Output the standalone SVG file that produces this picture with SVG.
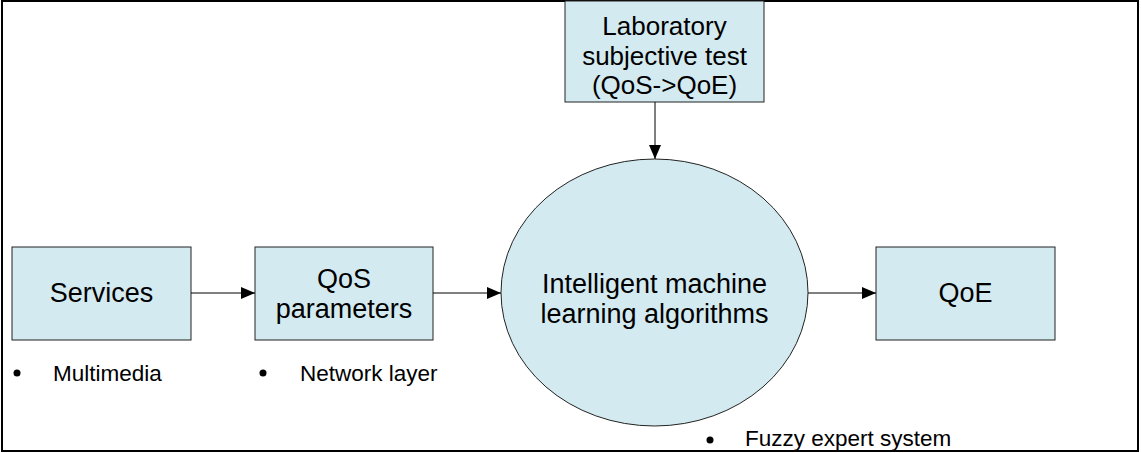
<svg xmlns="http://www.w3.org/2000/svg" width="1141" height="453" viewBox="0 0 1141 453">
<defs>
<style>
.box{fill:#D3EAF0;stroke:#222;stroke-width:1}
.t{font-family:"Liberation Sans",Arial,sans-serif;font-size:27px;fill:#000;text-anchor:middle}
.lab{font-size:26px}
.b{font-family:"Liberation Sans",Arial,sans-serif;font-size:22.5px;fill:#000}
.c{stroke:#000;stroke-width:1;fill:none;marker-end:url(#ah)}
</style>
<marker id="ah" markerWidth="14" markerHeight="12" refX="14" refY="6" orient="auto" markerUnits="userSpaceOnUse">
<path d="M0,0 L14,6 L0,12 Z" fill="#000"/>
</marker>
</defs>
<rect x="2" y="1" width="1136" height="450" fill="#fff" stroke="#000" stroke-width="2"/>
<g id="lab">
<rect class="box" x="565" y="1" width="199" height="101"/>
<text class="t lab" x="664.5" y="35">Laboratory</text>
<text class="t lab" x="664.5" y="64.5">subjective test</text>
<text class="t lab" x="664.5" y="94">(QoS-&gt;QoE)</text>
</g>
<g id="services">
<rect class="box" x="12" y="247" width="179" height="93"/>
<text class="t" x="101.5" y="302">Services</text>
</g>
<g id="qos">
<rect class="box" x="255" y="247" width="178" height="93"/>
<text class="t" x="344" y="288">QoS</text>
<text class="t" x="344" y="318">parameters</text>
</g>
<g id="ml">
<ellipse class="box" cx="654.5" cy="292.5" rx="153.5" ry="133.5"/>
<text class="t" x="654.5" y="293">Intelligent machine</text>
<text class="t" x="654.5" y="323">learning algorithms</text>
</g>
<g id="qoe">
<rect class="box" x="876" y="247" width="179" height="93"/>
<text class="t" x="965.5" y="302">QoE</text>
</g>
<g id="bullets">
<circle cx="17" cy="373" r="3.5"/>
<text class="b" x="53" y="381">Multimedia</text>
<circle cx="263" cy="373" r="3.5"/>
<text class="b" x="300" y="381">Network layer</text>
<circle cx="710" cy="440" r="3.5"/>
<text class="b" x="745" y="446">Fuzzy expert system</text>
</g>
<g id="connectors">
<line class="c" x1="191" y1="293" x2="255" y2="293"/>
<line class="c" x1="433" y1="293" x2="501" y2="293"/>
<line class="c" x1="808" y1="293" x2="876" y2="293"/>
<line class="c" x1="655" y1="102" x2="655" y2="159"/>
</g>
</svg>
